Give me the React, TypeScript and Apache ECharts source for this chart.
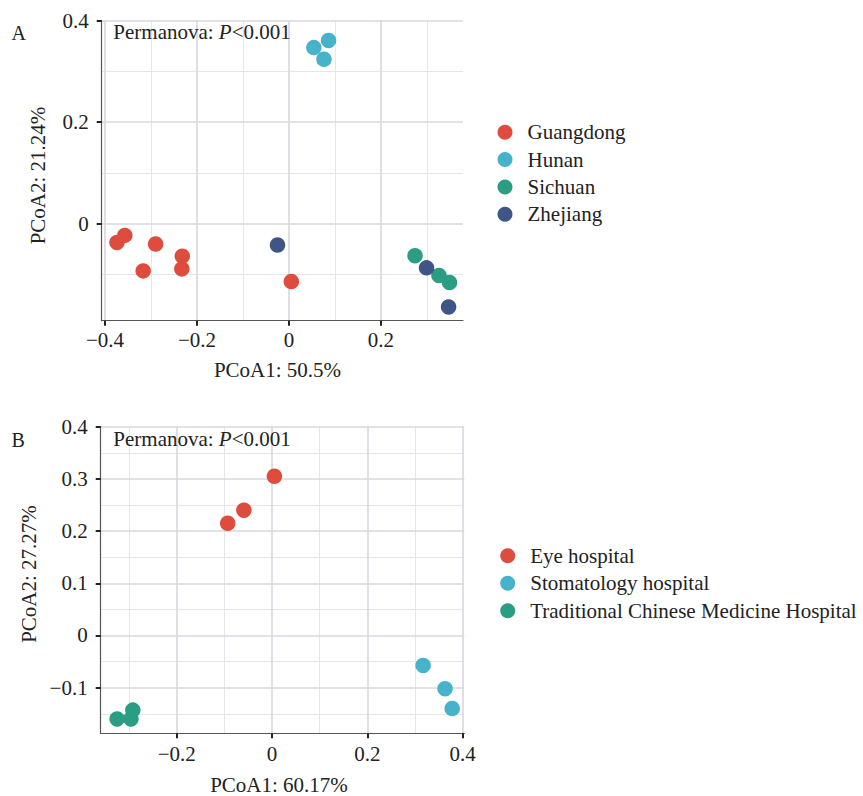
import React, { useEffect, useRef } from "react";
import * as echarts from "echarts";

// ---- Panel A data (PCoA by province) ----
const provinces = ["Guangdong", "Hunan", "Sichuan", "Zhejiang"];
const guangdong: number[][] = [
  [-0.374, -0.037], [-0.357, -0.023], [-0.29, -0.04], [-0.317, -0.093],
  [-0.232, -0.064], [-0.233, -0.089], [0.005, -0.114],
];
const hunan: number[][] = [[0.054, 0.347], [0.086, 0.361], [0.076, 0.324]];
const sichuan: number[][] = [[0.274, -0.063], [0.326, -0.102], [0.349, -0.116]];
const zhejiang: number[][] = [[-0.025, -0.042], [0.299, -0.087], [0.347, -0.164]];

// ---- Panel B data (PCoA by hospital type) ----
const hospitals = ["Eye hospital", "Stomatology hospital", "Traditional Chinese Medicine Hospital"];
const eyeHospital: number[][] = [[0.005, 0.305], [-0.059, 0.24], [-0.093, 0.215]];
const stomatology: number[][] = [[0.317, -0.0575], [0.363, -0.102], [0.378, -0.14]];
const tcmHospital: number[][] = [[-0.325, -0.16], [-0.292, -0.143], [-0.296, -0.16]];

// ---- Axis ticks ----
const aXMajor = [-0.4, -0.2, 0, 0.2];
const aXMinor = [-0.3, -0.1, 0.1, 0.3];
const aYMajor = [0, 0.2, 0.4];
const aYMinor = [-0.1, 0.1, 0.3];
const bXMajor = [-0.2, 0, 0.2, 0.4];
const bXMinor = [-0.3, -0.1, 0.1, 0.3];
const bYMajor = [-0.1, 0, 0.1, 0.2, 0.3, 0.4];
const bYMinor = [-0.15, -0.05, 0.05, 0.15, 0.25, 0.35];

const titles = {
  aX: "PCoA1: 50.5%",
  aY: "PCoA2: 21.24%",
  bX: "PCoA1: 60.17%",
  bY: "PCoA2: 27.27%",
};

const RED = "#DE4C3E";
const CYAN = "#46B3CA";
const GREEN = "#2A9D83";
const NAVY = "#3F5585";

const FONT = "'Liberation Serif', 'Times New Roman', serif";
const TXT = "#222";

const fmt = (v: number) => {
  if (Math.abs(v) < 1e-9) return "0";
  return String(+v.toFixed(2)).replace("-", "\u2212");
};

function makeAxis(gridIndex: number, min: number, max: number, ticks: number[], margin: number) {
  return {
    type: "value",
    gridIndex,
    min,
    max,
    z: 3,
    splitLine: { show: false },
    minorSplitLine: { show: false },
    axisLine: { show: true, onZero: false, lineStyle: { color: "#555", width: 1.2 } },
    axisTick: { show: true, customValues: ticks, length: 5, lineStyle: { color: "#222", width: 2 } },
    axisLabel: {
      customValues: ticks,
      formatter: fmt,
      fontFamily: FONT,
      fontSize: 21,
      color: TXT,
      margin,
    },
  };
}

function gridLines(idx: number, xMaj: number[], xMin: number[], yMaj: number[], yMin: number[]) {
  const major = { color: "#D6D8DF", width: 1.6, type: "solid" };
  const minor = { color: "#E5E6EB", width: 1, type: "solid" };
  const data: any[] = [];
  xMin.forEach((v) => data.push({ xAxis: v, lineStyle: minor }));
  yMin.forEach((v) => data.push({ yAxis: v, lineStyle: minor }));
  xMaj.forEach((v) => data.push({ xAxis: v, lineStyle: major }));
  yMaj.forEach((v) => data.push({ yAxis: v, lineStyle: major }));
  return {
    type: "scatter",
    name: "__grid" + idx,
    xAxisIndex: idx,
    yAxisIndex: idx,
    data: [],
    silent: true,
    z: 1,
    markLine: {
      z: 1,
      silent: true,
      symbol: ["none", "none"],
      label: { show: false },
      emphasis: { disabled: true },
      animation: false,
      data,
    },
  };
}

function pts(name: string, data: number[][], color: string, idx: number) {
  return {
    type: "scatter",
    name,
    xAxisIndex: idx,
    yAxisIndex: idx,
    data,
    symbol: "circle",
    symbolSize: 15.5,
    z: 5,
    itemStyle: { color, opacity: 1 },
    emphasis: { disabled: true },
  };
}

const permText = (y: number) => ({
  type: "text", x: 113.3, y, z: 10,
  style: {
    text: "{n|Permanova: }{i|P}{n|<0.001}",
    verticalAlign: "middle",
    rich: {
      n: { fontFamily: FONT, fontSize: 21, fill: TXT },
      i: { fontFamily: FONT, fontSize: 21, fontStyle: "italic", fill: TXT },
    },
  },
});

export default function App() {
  const ref = useRef<HTMLDivElement>(null);
  useEffect(() => {
    if (!ref.current) return;
    const chart = echarts.init(ref.current, null, { renderer: "svg" });
    const legendCommon = {
      orient: "vertical",
      icon: "circle",
      itemWidth: 15,
      itemHeight: 15,
      padding: 0,
      selectedMode: false,
      textStyle: { fontFamily: FONT, fontSize: 21, color: TXT, padding: [0, 0, 0, 10] },
    };
    chart.setOption({
      animation: false,
      backgroundColor: "#fff",
      grid: [
        { left: 101.7, top: 20.7, width: 361.3, height: 300 },
        { left: 100.7, top: 426.7, width: 363.6, height: 306.6 },
      ],
      xAxis: [
        makeAxis(0, -0.4072, 0.3783, aXMajor, 9),
        makeAxis(1, -0.3594, 0.4034, bXMajor, 10),
      ],
      yAxis: [
        makeAxis(0, -0.1911, 0.4, aYMajor, 13),
        makeAxis(1, -0.1874, 0.4, bYMajor, 13),
      ],
      legend: [
        { ...legendCommon, data: provinces, left: 497.5, top: 121.8, itemGap: 6.3 },
        { ...legendCommon, data: hospitals, left: 500.2, top: 545.2, itemGap: 6.5 },
      ],
      graphic: [
        { type: "text", x: 11.5, y: 33, style: { text: "A", font: `20px ${FONT}`, fill: TXT, verticalAlign: "middle" } },
        { type: "text", x: 11.5, y: 439.5, style: { text: "B", font: `20px ${FONT}`, fill: TXT, verticalAlign: "middle" } },
        permText(31.7),
        permText(439.3),
        { type: "text", x: 277.5, y: 370, style: { text: titles.aX, font: `21px ${FONT}`, fill: TXT, align: "center", verticalAlign: "middle" } },
        { type: "text", x: 38.3, y: 175.5, rotation: Math.PI / 2, style: { text: titles.aY, font: `21px ${FONT}`, fill: TXT, align: "center", verticalAlign: "middle" } },
        { type: "text", x: 279, y: 784.5, style: { text: titles.bX, font: `21px ${FONT}`, fill: TXT, align: "center", verticalAlign: "middle" } },
        { type: "text", x: 28.5, y: 574, rotation: Math.PI / 2, style: { text: titles.bY, font: `21px ${FONT}`, fill: TXT, align: "center", verticalAlign: "middle" } },
      ],
      series: [
        gridLines(0, aXMajor, aXMinor, aYMajor, aYMinor),
        gridLines(1, bXMajor, bXMinor, bYMajor, bYMinor),
        pts("Guangdong", guangdong, RED, 0),
        pts("Hunan", hunan, CYAN, 0),
        pts("Sichuan", sichuan, GREEN, 0),
        pts("Zhejiang", zhejiang, NAVY, 0),
        pts("Eye hospital", eyeHospital, RED, 1),
        pts("Stomatology hospital", stomatology, CYAN, 1),
        pts("Traditional Chinese Medicine Hospital", tcmHospital, GREEN, 1),
      ],
    });
    return () => chart.dispose();
  }, []);
  return (
    <div
      ref={ref}
      style={{ position: "absolute", left: 0, top: 0, width: 863, height: 796 }}
    />
  );
}
